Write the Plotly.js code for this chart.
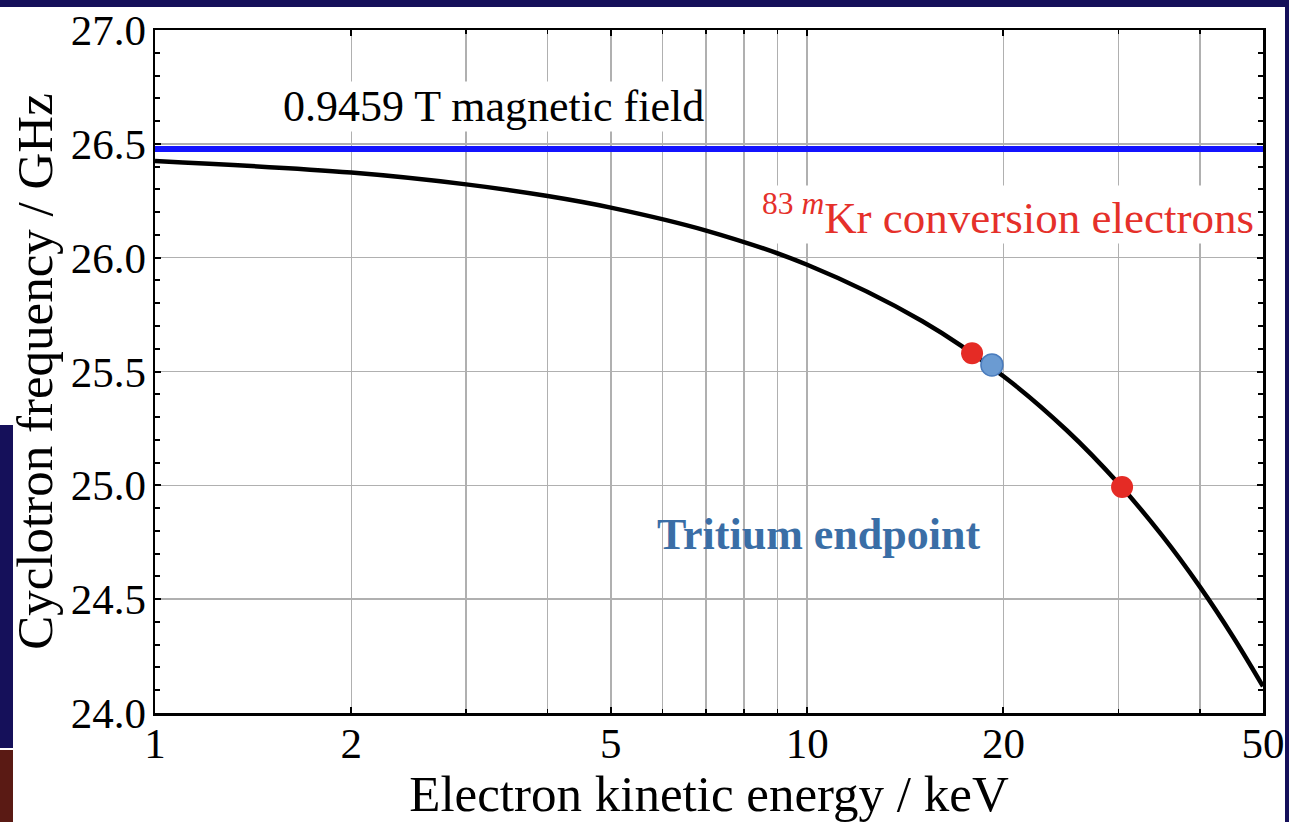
<!DOCTYPE html>
<html>
<head>
<meta charset="utf-8">
<script src="https://cdn.plot.ly/plotly-3.0.1.min.js"></script>
<style>
  html, body { margin: 0; padding: 0; background: #ffffff; overflow: hidden; }
  #chart { position: absolute; left: 0; top: 0; width: 1289px; height: 822px; }
  .strip { position: absolute; z-index: 5; }
</style>
</head>
<body>
<div id="chart"></div>
<div class="strip" style="left:0;top:0;width:1289px;height:7px;background:#15105a;"></div>
<div class="strip" style="left:1285px;top:0;width:4px;height:822px;background:#15105a;"></div>
<div class="strip" style="left:0;top:425px;width:13px;height:323px;background:#15105a;"></div>
<div class="strip" style="left:0;top:750px;width:13px;height:72px;background:#5a1a14;"></div>
<script>
// Electron kinetic energy (keV) and cyclotron frequency (GHz)
const energyKeV = [1, 2, 3, 4, 5, 7, 10, 15, 20, 25, 30, 35, 40, 45, 50];
const freqGHz   = [26.425, 26.374, 26.322, 26.271, 26.220, 26.119, 25.969, 25.722, 25.479, 25.242, 25.009, 24.780, 24.555, 24.334, 24.117];

// Field line (0.9459 T)
const fieldX = [1, 50];
const fieldY = [26.477, 26.477];

// 83mKr conversion electron lines
const krX = [17.9, 30.4];
const krY = [25.580, 24.993];

// Tritium endpoint
const tritX = [19.2];
const tritY = [25.529];

// Tick labels
const xTickVals = [1, 2, 5, 10, 20, 50];
const xTickText = ['1', '2', '5', '10', '20', '50'];
const xMinorVals = [3, 4, 6, 7, 8, 9, 30, 40];

const serif = 'Liberation Serif';

const traces = [
  { x: fieldX, y: fieldY, type: 'scatter', mode: 'lines',
    line: { color: '#1414ff', width: 6 }, hoverinfo: 'skip', showlegend: false },
  { x: energyKeV, y: freqGHz, type: 'scatter', mode: 'lines',
    line: { color: '#000000', width: 4.5, shape: 'spline', smoothing: 1 }, showlegend: false },
  { x: krX, y: krY, type: 'scatter', mode: 'markers',
    marker: { color: '#e52b25', size: 22, line: { width: 0 } }, showlegend: false },
  { x: tritX, y: tritY, type: 'scatter', mode: 'markers',
    marker: { color: '#6b9bd2', size: 22, line: { color: '#4a7cbd', width: 1.5 } }, showlegend: false }
];

const gridColor = '#b0b0b0';

const layout = {
  width: 1289, height: 822,
  margin: { l: 155, r: 26, t: 30, b: 109, pad: 0 },
  paper_bgcolor: 'rgba(0,0,0,0)',
  plot_bgcolor: '#ffffff',
  font: { family: serif, color: '#000000', size: 43 },
  showlegend: false,
  xaxis: {
    type: 'log',
    range: [0, Math.log10(50)],
    tickmode: 'array', tickvals: xTickVals, ticktext: xTickText,
    tickfont: { family: serif, size: 43, color: '#000' },
    ticks: 'inside', ticklen: 6, tickwidth: 2, tickcolor: '#000',
    ticklabelstandoff: -9,
    showline: true, linecolor: '#000', linewidth: 2.5, mirror: 'ticks',
    showgrid: true, gridcolor: gridColor, gridwidth: 1.5,
    zeroline: false,
    minor: { tickmode: 'array', tickvals: xMinorVals, showgrid: true, gridcolor: gridColor, gridwidth: 1.5,
             ticks: 'inside', ticklen: 4, tickwidth: 1.5, tickcolor: '#000' },
    title: { text: 'Electron kinetic energy / keV', font: { family: serif, size: 51, color: '#000' }, standoff: 8 }
  },
  yaxis: {
    range: [24, 27],
    dtick: 0.5, tick0: 24, tickformat: '.1f',
    tickfont: { family: serif, size: 43, color: '#000' },
    ticks: 'inside', ticklen: 6, tickwidth: 2, tickcolor: '#000',
    ticklabelstandoff: -2,
    showline: true, linecolor: '#000', linewidth: 2.5, mirror: 'ticks',
    showgrid: true, gridcolor: gridColor, gridwidth: 1.5,
    zeroline: false,
    minor: { dtick: 0.1, ticks: 'inside', ticklen: 5, tickwidth: 2, tickcolor: '#000', showgrid: false },
    title: { text: 'Cyclotron frequency / GHz', font: { family: serif, size: 51, color: '#000' }, standoff: 2 }
  },
  annotations: [
    { x: 0.519, y: 26.662, xref: 'x', yref: 'y', text: '0.9459 T magnetic field',
      showarrow: false, font: { family: serif, size: 44, color: '#000' },
      bgcolor: '#ffffff', borderpad: 0, xanchor: 'center', yanchor: 'middle' },
    { x: 1.6866, y: 26.188, xref: 'x', yref: 'y',
      text: '<sup>83 <i>m</i></sup>Kr conversion electrons',
      showarrow: false, font: { family: serif, size: 45, color: '#e5302a' },
      bgcolor: '#ffffff', borderpad: 0, xanchor: 'right', yanchor: 'middle' },
    { x: 1.0181, y: 24.782, xref: 'x', yref: 'y', text: '<b>Tritium endpoint</b>',
      showarrow: false, font: { family: serif, size: 44, color: '#3a6ea6' },
      xanchor: 'center', yanchor: 'middle' }
  ]
};

Plotly.newPlot('chart', traces, layout, { displayModeBar: false, staticPlot: true });
</script>
</body>
</html>
